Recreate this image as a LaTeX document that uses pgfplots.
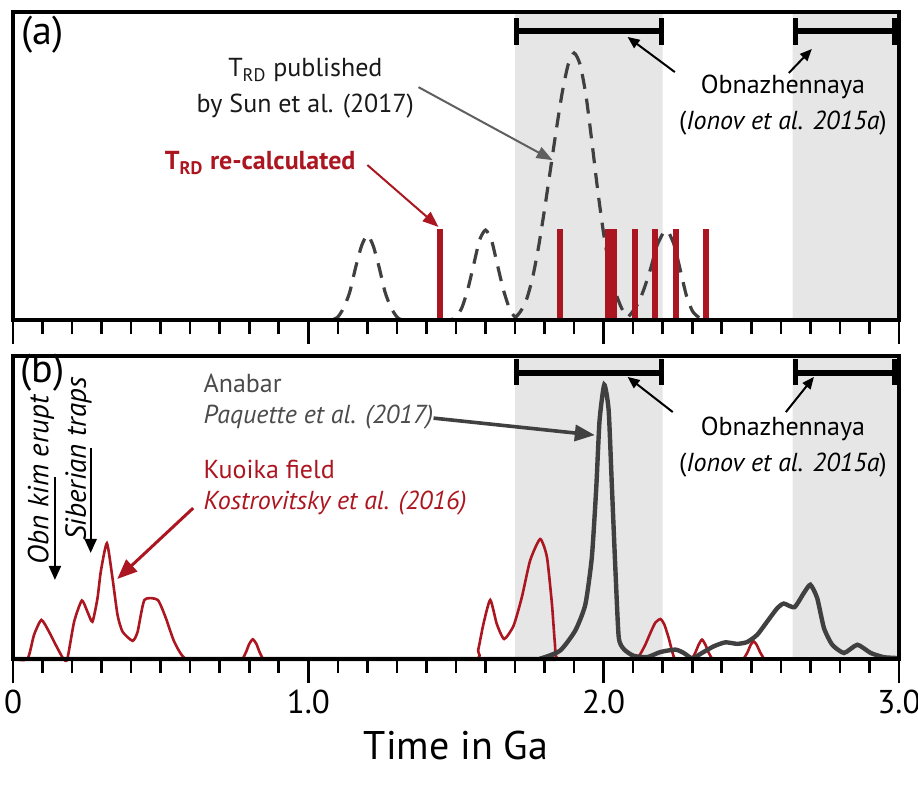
\documentclass[border=0pt]{standalone}
\usepackage{pgfplots}
\pgfplotsset{compat=1.18}
\usetikzlibrary{arrows.meta}
\usepackage{fontspec}
\setmainfont{PT Sans}
\definecolor{kred}{RGB}{172,22,32}
\definecolor{dgray}{RGB}{64,64,64}
\definecolor{shade}{RGB}{230,230,230}
\definecolor{agray}{RGB}{95,95,95}
\definecolor{tgray}{RGB}{75,75,75}
\pgfplotsset{
 panel/.style={
  scale only axis, width=443pt, xmin=0, xmax=3, ymin=0, ymax=1,
  axis line style={line width=2pt, black},
  xtick={0,1,2,3}, minor xtick={0.1,0.2,...,2.95},
  xtick pos=left, ytick=\empty, tick align=outside,
  major tick length=12pt, minor tick length=7pt,
  tick style={black, line width=1.3pt},
  clip=false, axis on top,
  /pgf/number format/assume math mode=true,
  xticklabel style={font=\fontsize{16.5}{16.5}\selectfont},
 },
 sbar/.style={black, line width=3pt},
 scap/.style={black, line width=2.4pt},
}
\tikzset{ann/.style={font=\fontsize{13}{16}\selectfont, inner sep=0pt}}
\begin{document}
\begin{tikzpicture}
\useasboundingbox (0,0) rectangle (459pt,-393.5pt);
% ---------------- panel (a)
\begin{axis}[panel, height=154pt, at={(6.5pt,-160pt)}, anchor=south west, xticklabels={}]
\addplot[fill=shade, draw=none] coordinates {(1.7,0) (1.7,1) (2.2,1) (2.2,0)} \closedcycle;
\addplot[fill=shade, draw=none] coordinates {(2.64,0) (2.64,1) (3.0,1) (3.0,0)} \closedcycle;
\addplot[dgray, line width=1.6pt, dash pattern=on 7.5pt off 5pt, smooth, tension=0.4] coordinates {
(1.08,0) (1.10,0.01) (1.12,0.04) (1.14,0.09) (1.16,0.17) (1.18,0.24) (1.20,0.276) (1.22,0.24) (1.24,0.17) (1.26,0.09) (1.28,0.04) (1.30,0.01) (1.32,0)
(1.40,0) (1.48,0) (1.50,0.01) (1.52,0.04) (1.54,0.10) (1.56,0.18) (1.58,0.26) (1.60,0.292) (1.62,0.26) (1.64,0.18) (1.66,0.10) (1.68,0.04) (1.70,0.01)
(1.72,0.03) (1.74,0.07) (1.76,0.14) (1.78,0.24) (1.80,0.36) (1.82,0.49) (1.84,0.62) (1.86,0.74) (1.88,0.83) (1.90,0.867) (1.92,0.83) (1.94,0.73) (1.96,0.58) (1.98,0.42) (2.00,0.28) (2.02,0.17) (2.04,0.09) (2.06,0.04) (2.08,0.01)
(2.10,0.03) (2.12,0.06) (2.14,0.11) (2.16,0.17) (2.18,0.24) (2.20,0.28) (2.21,0.29) (2.22,0.285) (2.24,0.24) (2.26,0.16) (2.28,0.08) (2.30,0.03) (2.32,0.01) (2.34,0)
};
\addplot[kred, ycomb, line width=3pt] coordinates {
(1.447,0.295) (1.851,0.295) (2.014,0.295) (2.034,0.295) (2.105,0.295) (2.173,0.295) (2.244,0.295) (2.346,0.295)
};
\addplot[sbar] coordinates {(1.705,0.939) (2.195,0.939)};
\addplot[scap] coordinates {(1.705,0.893) (1.705,0.981)};
\addplot[scap] coordinates {(2.195,0.893) (2.195,0.981)};
\addplot[sbar] coordinates {(2.65,0.939) (2.985,0.939)};
\addplot[scap] coordinates {(2.65,0.893) (2.65,0.981)};
\addplot[scap] coordinates {(2.985,0.893) (2.985,0.981)};
\node[ann, font=\fontsize{20}{20}\selectfont] at (axis cs:0.1,0.925) {(a)};
\node[ann, align=center, text=black!90] at (axis cs:0.99,0.753) {T\textsubscript{RD} published\\[2pt]by Sun et al. (2017)};
\node[ann, text=kred, font=\bfseries\fontsize{13}{16}\selectfont] at (axis cs:0.837,0.51) {T\textsubscript{RD} re-calculated};
\node[ann, align=center] at (axis cs:2.607,0.698) {Obnazhennaya\\[2pt](\textit{Ionov et al. 2015a})};
\draw[agray, line width=1pt, -{Triangle[length=8pt,width=6pt]}] (axis cs:1.373,0.756) -- (axis cs:1.827,0.519);
\draw[kred, line width=1pt, -{Triangle[length=8pt,width=6pt]}] (axis cs:1.20,0.503) -- (axis cs:1.441,0.302);
\draw[black, line width=1pt, -{Triangle[length=6pt,width=5pt]}] (axis cs:2.241,0.805) -- (axis cs:2.081,0.919);
\draw[black, line width=1pt, -{Triangle[length=6pt,width=5pt]}] (axis cs:2.627,0.802) -- (axis cs:2.705,0.88);
\end{axis}
% ---------------- panel (b)
\begin{axis}[panel, height=151.5pt, at={(6.5pt,-329.5pt)}, anchor=south west, xticklabels={0,1.0,2.0,3.0}]
\addplot[fill=shade, draw=none] coordinates {(1.7,0) (1.7,1) (2.2,1) (2.2,0)} \closedcycle;
\addplot[fill=shade, draw=none] coordinates {(2.64,0) (2.64,1) (3.0,1) (3.0,0)} \closedcycle;
\addplot[kred, line width=1.3pt, smooth, tension=0.35] coordinates {
(0,0) (0.049,0) (0.071,0.079) (0.096,0.129) (0.122,0.09) (0.145,0.046) (0.171,0) (0.184,0) (0.207,0.123) (0.233,0.193) (0.252,0.156) (0.269,0.123) (0.286,0.2) (0.2975,0.29) (0.318,0.382) (0.337,0.266) (0.354,0.145) (0.371,0.09) (0.405,0.06) (0.422,0.09) (0.445,0.195) (0.49,0.195) (0.518,0.134) (0.546,0.057) (0.586,0)
(0.70,0) (0.77,0) (0.78,0.005) (0.79,0.025) (0.80,0.05) (0.812,0.065) (0.824,0.05) (0.834,0.025) (0.844,0.005) (0.855,0) (1.20,0)
(1.56,0) (1.575,0.03) (1.593,0.116) (1.616,0.195) (1.638,0.116) (1.663,0.066) (1.695,0.11) (1.723,0.204) (1.751,0.325) (1.785,0.396) (1.808,0.336) (1.825,0.18) (1.835,0.05) (1.845,0) (1.95,0)
(2.105,0) (2.12,0.01) (2.14,0.045) (2.16,0.09) (2.175,0.12) (2.192,0.132) (2.205,0.115) (2.22,0.07) (2.232,0.025) (2.243,0)
(2.29,0) (2.30,0.003) (2.31,0.02) (2.322,0.048) (2.333,0.064) (2.344,0.048) (2.356,0.02) (2.366,0.003) (2.375,0)
(2.465,0) (2.475,0.003) (2.487,0.022) (2.498,0.047) (2.508,0.058) (2.518,0.047) (2.53,0.022) (2.542,0.003) (2.554,0) (2.7,0) (3.0,0)
};
\addplot[dgray, line width=2.2pt, smooth, tension=0.35] coordinates {
(0,0) (1.75,0) (1.791,0.003) (1.853,0.028) (1.904,0.094) (1.938,0.18) (1.960,0.336) (1.975,0.566) (1.986,0.786) (2.002,0.905) (2.017,0.82) (2.028,0.566) (2.04,0.29) (2.051,0.072) (2.068,0.033) (2.10,0.011) (2.147,0.006) (2.192,0.023) (2.243,0.031) (2.271,0.02) (2.30,0.002) (2.333,0.02) (2.373,0.042) (2.412,0.055) (2.452,0.05) (2.486,0.056) (2.52,0.08) (2.554,0.124) (2.588,0.168) (2.61,0.183) (2.646,0.171) (2.678,0.218) (2.70,0.245) (2.723,0.201) (2.746,0.102) (2.774,0.047) (2.814,0.02) (2.859,0.047) (2.904,0.02) (2.949,0.006) (3.0,0.003)
};
\addplot[sbar] coordinates {(1.705,0.945) (2.195,0.945)};
\addplot[scap] coordinates {(1.705,0.905) (1.705,0.99)};
\addplot[scap] coordinates {(2.195,0.905) (2.195,0.99)};
\addplot[sbar] coordinates {(2.65,0.945) (2.985,0.945)};
\addplot[scap] coordinates {(2.65,0.905) (2.65,0.99)};
\addplot[scap] coordinates {(2.985,0.905) (2.985,0.99)};
\node[ann, font=\fontsize{20}{20}\selectfont] at (axis cs:0.1,0.945) {(b)};
\node[ann, align=center] at (axis cs:2.607,0.70) {Obnazhennaya\\[2pt](\textit{Ionov et al. 2015a})};
\node[ann, anchor=west, text=tgray] at (axis cs:0.644,0.911) {Anabar};
\node[ann, anchor=west, text=tgray, font=\itshape\fontsize{13}{16}\selectfont] at (axis cs:0.644,0.799) {Paquette et al. (2017)};
\node[ann, anchor=west, text=kred] at (axis cs:0.644,0.624) {Kuoika field};
\node[ann, anchor=west, text=kred, font=\itshape\fontsize{13}{16}\selectfont] at (axis cs:0.644,0.515) {Kostrovitsky et al. (2016)};
\node[ann, rotate=90, font=\itshape\fontsize{14.5}{14.5}\selectfont] at (axis cs:0.095,0.591) {Obn kim erupt};
\node[ann, rotate=90, font=\itshape\fontsize{14.5}{14.5}\selectfont] at (axis cs:0.222,0.66) {Siberian traps};
\draw[black, line width=1.1pt, -{Triangle[length=7pt,width=6pt]}] (axis cs:0.142,0.601) -- (axis cs:0.142,0.261);
\draw[black, line width=1.1pt, -{Triangle[length=7pt,width=6pt]}] (axis cs:0.263,0.696) -- (axis cs:0.263,0.35);
\draw[dgray, line width=1.8pt, -{Triangle[length=10pt,width=8pt]}] (axis cs:1.424,0.795) -- (axis cs:1.97,0.739);
\draw[kred, line width=1.5pt, -{Triangle[length=10pt,width=8pt]}] (axis cs:0.61,0.498) -- (axis cs:0.353,0.264);
\draw[black, line width=1pt, -{Triangle[length=6pt,width=5pt]}] (axis cs:2.234,0.815) -- (axis cs:2.081,0.931);
\draw[black, line width=1pt, -{Triangle[length=6pt,width=5pt]}] (axis cs:2.617,0.815) -- (axis cs:2.712,0.931);
\node[font=\fontsize{20}{20}\selectfont] at (axis cs:1.5,0) [yshift=-43pt] {Time in Ga};
\end{axis}
\end{tikzpicture}
\end{document}
